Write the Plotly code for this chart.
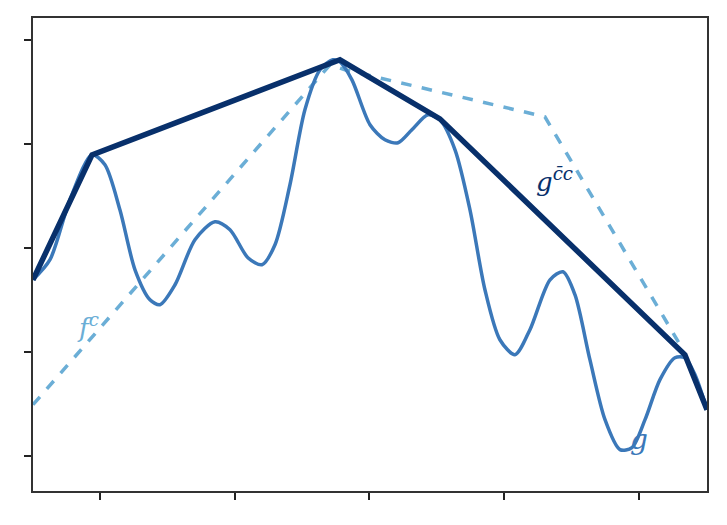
import plotly.graph_objects as go

g_x = [0.503,0.629,0.777,0.941,1.037,1.148,1.260,1.371,1.445,1.557,1.705,1.853,1.965,2.098,2.202,2.299,2.410,2.521,2.633,2.729,2.781,2.870,3.004,3.115,3.212,3.315,3.434,3.523,3.635,3.746,3.857,3.968,4.080,4.191,4.340,4.436,4.525,4.636,4.748,4.859,4.948,5.045,5.156,5.267,5.341,5.416,5.505]
g_y = [1.692,1.885,2.462,2.894,2.798,2.365,1.788,1.500,1.452,1.644,2.077,2.250,2.173,1.904,1.837,2.029,2.606,3.327,3.712,3.808,3.788,3.615,3.183,3.038,3.010,3.135,3.279,3.231,2.942,2.365,1.596,1.115,0.971,1.212,1.692,1.769,1.548,0.923,0.346,0.058,0.077,0.346,0.731,0.942,0.942,0.779,0.442]
hull_x = [0.503,0.941,2.781,3.523,5.341,5.505]
hull_y = [1.692,2.894,3.808,3.24,0.971,0.442]
fc_x = [0.503,2.707,2.818,4.302,5.327]
fc_y = [0.490,3.760,3.712,3.260,1.019]
tick_x = [1,2,3,4,5]
tick_y = [0,1,2,3,4]

fig = go.Figure()
fig.add_trace(go.Scatter(x=fc_x, y=fc_y, mode="lines", line=dict(color="#6baed6", width=3.5, dash="dash")))
fig.add_trace(go.Scatter(x=g_x, y=g_y, mode="lines", line=dict(color="#3b78b9", width=3.5, shape="spline", smoothing=0.8)))
fig.add_trace(go.Scatter(x=hull_x, y=hull_y, mode="lines", line=dict(color="#08306b", width=5.5)))
fig.add_annotation(x=0.91, y=1.25, text="<i>f</i><sup><i>c</i></sup>", showarrow=False, font=dict(family="DejaVu Serif", size=26, color="#6baed6"))
fig.add_annotation(x=4.37, y=2.65, text="<i>g</i><sup><i>c̄c</i></sup>", showarrow=False, font=dict(family="DejaVu Serif", size=26, color="#08306b"))
fig.add_annotation(x=5.0, y=0.16, text="<i>g</i>", showarrow=False, font=dict(family="DejaVu Serif", size=28, color="#3b78b9"))
ax = dict(showgrid=False, zeroline=False, showline=True, mirror=True, linecolor="#333", linewidth=2,
          ticks="outside", ticklen=7, tickwidth=2, tickcolor="#222", showticklabels=False)
fig.update_xaxes(range=[0.503,5.505], tickvals=tick_x, **ax)
fig.update_yaxes(range=[-0.34,4.21], tickvals=tick_y, **ax)
fig.update_layout(width=727, height=525, showlegend=False, plot_bgcolor="white", paper_bgcolor="white",
                  margin=dict(l=25, r=28, t=10, b=42, autoexpand=False))
fig.write_html("out.html")
